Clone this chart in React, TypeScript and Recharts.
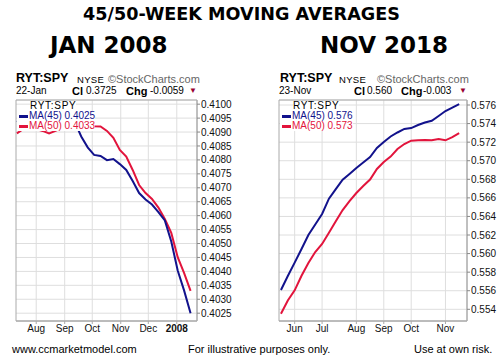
import React from 'react'
import { LineChart, Line, XAxis, YAxis, CartesianGrid, ReferenceArea } from 'recharts'

// Jan 2008 panel: x = days since 2007-01-01, one point per week
const janDays = [191, 198, 205, 212, 219, 226, 233, 240, 247, 254, 261, 268, 275, 282, 289, 296, 303, 310, 317, 324, 331, 338, 345, 352, 359, 366, 373, 380]
const janMa45 = [0.40936, 0.40943, 0.4095, 0.40958, 0.40965, 0.40968, 0.40972, 0.40968, 0.40958, 0.40936, 0.40884, 0.40845, 0.40818, 0.40814, 0.40799, 0.40803, 0.40785, 0.40764, 0.40724, 0.40681, 0.40658, 0.4064, 0.40613, 0.40583, 0.40507, 0.40403, 0.40331, 0.4025]
const janMa50 = [0.40895, 0.40911, 0.40915, 0.40911, 0.40904, 0.40895, 0.40904, 0.40915, 0.40922, 0.40925, 0.40925, 0.40923, 0.40921, 0.4092, 0.40904, 0.40879, 0.40836, 0.40812, 0.40764, 0.4071, 0.40681, 0.4066, 0.40629, 0.40588, 0.40538, 0.40451, 0.40394, 0.4033]
const janTickDays = [212, 243, 273, 304, 334, 365]
const janTickLabels = ['Aug', 'Sep', 'Oct', 'Nov', 'Dec', '2008']
const janYTicks = [0.4025, 0.403, 0.4035, 0.404, 0.4045, 0.405, 0.4055, 0.406, 0.4065, 0.407, 0.4075, 0.408, 0.4085, 0.409, 0.4095, 0.41]

// Nov 2018 panel: x = days since 2018-01-01, weekly
const novDays = [140, 147, 154, 161, 168, 175, 182, 189, 196, 203, 210, 217, 224, 231, 238, 245, 252, 259, 266, 273, 280, 287, 294, 301, 308, 315, 322]
const novMa45 = [0.55608, 0.55758, 0.55903, 0.56049, 0.562, 0.56314, 0.56426, 0.56591, 0.56694, 0.56795, 0.56857, 0.56921, 0.56981, 0.5704, 0.57137, 0.57202, 0.57261, 0.57304, 0.57342, 0.57352, 0.57385, 0.57412, 0.57431, 0.57482, 0.57535, 0.57573, 0.5761]
const novMa50 = [0.55352, 0.55495, 0.55604, 0.55761, 0.55898, 0.56017, 0.56103, 0.56224, 0.56349, 0.56469, 0.56566, 0.56652, 0.56728, 0.56798, 0.56911, 0.56986, 0.57045, 0.57126, 0.5718, 0.57216, 0.57221, 0.57223, 0.5722, 0.57234, 0.5722, 0.57255, 0.57298]
const novTickDays = [154, 182, 217, 245, 273, 308]
const novTickLabels = ['Jun', 'Jul', 'Aug', 'Sep', 'Oct', 'Nov']
const novYTicks = [0.554, 0.556, 0.558, 0.56, 0.562, 0.564, 0.566, 0.568, 0.57, 0.572, 0.574, 0.576]

const BLUE = '#12128c'
const RED = '#e2143c'
const FONT = '"Liberation Sans", Arial, sans-serif'

const janData = janDays.map((d, i) => ({ d, ma45: janMa45[i], ma50: janMa50[i] }))
const novData = novDays.map((d, i) => ({ d, ma45: novMa45[i], ma50: novMa50[i] }))

function Txt({ x, y, size = 10, bold = false, color = '#000', family = FONT, spacing = 0, children }: any) {
  return (
    <div
      style={{
        position: 'absolute',
        left: x,
        top: y,
        fontSize: size,
        lineHeight: 1,
        fontWeight: bold ? 'bold' : 'normal',
        color,
        fontFamily: family,
        letterSpacing: spacing,
        whiteSpace: 'nowrap',
      }}
    >
      {children}
    </div>
  )
}

function LegendRow({ x, y, color, label }: any) {
  return (
    <div style={{ position: 'absolute', left: x - 2, top: y, paddingLeft: 2, display: 'flex', alignItems: 'center', background: '#fff', height: 10, fontFamily: FONT, fontSize: 10, lineHeight: '10px', color, whiteSpace: 'nowrap' }}>
      <span style={{ display: 'inline-block', width: 9, height: 3, background: color, marginRight: 1 }} />
      <span>{label}</span>
    </div>
  )
}

function MonthTick({ x, y, payload, days, labels }: any) {
  const label = labels[days.indexOf(payload.value)]
  return (
    <text x={x} y={y} dy="0.71em" textAnchor="middle" fontSize={10} fontFamily={FONT} fill="#111" fontWeight={label === '2008' ? 'bold' : 'normal'}>
      {label}
    </text>
  )
}

function Panel({ data, domain, yDomain, yTicks, tickDays, tickLabels, digits, width, yWidth, right }: any) {
  const weekTicks = data.map((r: any) => r.d)
  return (
    <LineChart width={width} height={250} data={data} margin={{ top: 10, right, bottom: 1, left: 16 }}>
      <CartesianGrid stroke="#dedede" strokeWidth={1} verticalValues={tickDays} />
      <ReferenceArea x1={domain[0]} x2={domain[1]} y1={yDomain[0]} y2={yDomain[1]} fill="none" stroke="#aaa" ifOverflow="visible" />
      <XAxis
        xAxisId="minor"
        type="number"
        dataKey="d"
        domain={domain}
        ticks={weekTicks}
        allowDataOverflow
        height={0}
        axisLine={false}
        tickLine={{ stroke: '#bbb' }}
        tickSize={2}
        interval={0}
        tick={() => <g />}
      />
      <XAxis
        type="number"
        dataKey="d"
        domain={domain}
        ticks={tickDays}
        allowDataOverflow
        height={18}
        axisLine={{ stroke: '#aaa' }}
        tickLine={{ stroke: '#aaa' }}
        tickSize={3}
        tickMargin={1}
        interval={0}
        tick={(p: any) => <MonthTick {...p} days={tickDays} labels={tickLabels} />}
      />
      <YAxis
        orientation="right"
        type="number"
        domain={yDomain}
        ticks={yTicks}
        allowDataOverflow
        width={yWidth}
        interval={0}
        axisLine={{ stroke: '#aaa' }}
        tickLine={{ stroke: '#888' }}
        tickSize={3}
        tickMargin={1}
        tick={{ fontSize: 10, fontFamily: FONT, fill: '#111' }}
        tickFormatter={(v: number) => v.toFixed(digits)}
      />
      <Line type="linear" dataKey="ma50" stroke={RED} strokeWidth={2} dot={false} isAnimationActive={false} />
      <Line type="linear" dataKey="ma45" stroke={BLUE} strokeWidth={2} dot={false} isAnimationActive={false} />
    </LineChart>
  )
}

export default function App() {
  return (
    <div style={{ position: 'absolute', left: 0, top: 0, width: 498, height: 359, background: '#fff', overflow: 'hidden' }}>
      <Txt x={83} y={6} size={17.6} bold family='"DejaVu Sans", sans-serif'>45/50-WEEK MOVING AVERAGES</Txt>
      <Txt x={50} y={34} size={23} bold family='"DejaVu Sans", sans-serif'>JAN 2008</Txt>
      <Txt x={320} y={34} size={23} bold family='"DejaVu Sans", sans-serif'>NOV 2018</Txt>

      <Txt x={16} y={72} size={12.5} bold>RYT:SPY</Txt>
      <Txt x={77} y={74.5} size={9.5} spacing={0.3}>NYSE</Txt>
      <Txt x={108} y={73.5} size={11} color="#666">©StockCharts.com</Txt>
      <Txt x={16} y={86} size={10}>22-Jan</Txt>
      <Txt x={72} y={85.5} size={11} bold>Cl</Txt>
      <Txt x={86} y={86} size={10}>0.3725</Txt>
      <Txt x={126} y={85.5} size={11} bold>Chg</Txt>
      <Txt x={150} y={86} size={10}>-0.0059</Txt>
      <Txt x={189} y={86.5} size={8} color="#990033">▼</Txt>

      <Txt x={280} y={72} size={12.5} bold>RYT:SPY</Txt>
      <Txt x={339} y={74.5} size={9.5} spacing={0.3}>NYSE</Txt>
      <Txt x={377} y={73.5} size={11} color="#666">©StockCharts.com</Txt>
      <Txt x={279} y={86} size={10}>23-Nov</Txt>
      <Txt x={354} y={85.5} size={11} bold>Cl</Txt>
      <Txt x={367} y={86} size={10}>0.560</Txt>
      <Txt x={401} y={85.5} size={11} bold>Chg</Txt>
      <Txt x={423} y={86} size={10}>-0.003</Txt>
      <Txt x={459} y={86.5} size={8} color="#990033">▼</Txt>

      <div style={{ position: 'absolute', left: 0, top: 90 }}>
        <Panel data={janData} domain={[190, 387]} yDomain={[0.40222, 0.41015]} yTicks={janYTicks} tickDays={janTickDays} tickLabels={janTickLabels} digits={4} width={245} yWidth={45} right={3} />
      </div>
      <div style={{ position: 'absolute', left: 263, top: 90 }}>
        <Panel data={novData} domain={[138, 330]} yDomain={[0.55274, 0.57654]} yTicks={novYTicks} tickDays={novTickDays} tickLabels={novTickLabels} digits={3} width={235} yWidth={30} right={1} />
      </div>

      <div style={{ position: 'absolute', left: 30, top: 100.5, background: '#fff', fontFamily: FONT, fontSize: 10, lineHeight: '10px', letterSpacing: 0.7 }}>RYT:SPY</div>
      <LegendRow x={19} y={111} color={BLUE} label="MA(45) 0.4025" />
      <LegendRow x={19} y={121} color={RED} label="MA(50) 0.4033" />

      <div style={{ position: 'absolute', left: 293, top: 100.5, background: '#fff', fontFamily: FONT, fontSize: 10, lineHeight: '10px', letterSpacing: 0.7 }}>RYT:SPY</div>
      <LegendRow x={282} y={111} color={BLUE} label="MA(45) 0.576" />
      <LegendRow x={282} y={121} color={RED} label="MA(50) 0.573" />

      <Txt x={12} y={343.5} size={11}>www.ccmarketmodel.com</Txt>
      <Txt x={188} y={343.5} size={11}>For illustrative purposes only.</Txt>
      <Txt x={414} y={343.5} size={11}>Use at own risk.</Txt>
    </div>
  )
}
